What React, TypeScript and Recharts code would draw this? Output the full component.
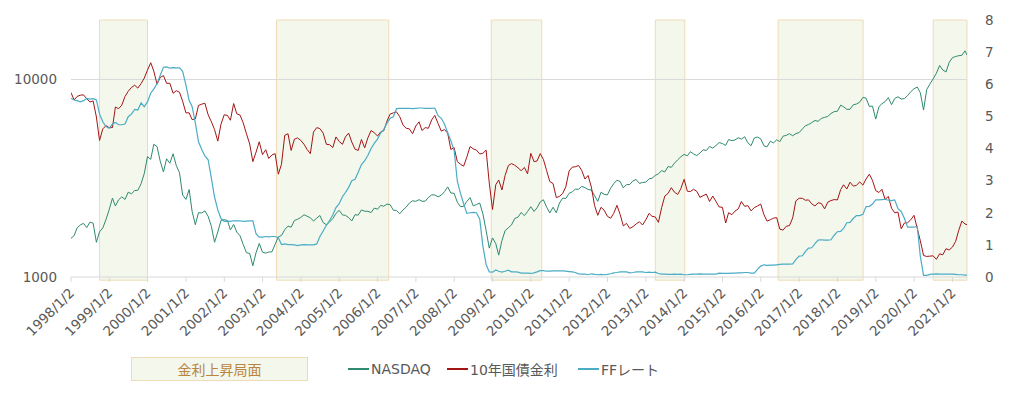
import { ComposedChart, Line, XAxis, YAxis, ReferenceArea, ReferenceLine } from 'recharts';

// monthly values from 1998/1 to 2021/5, plus the last day on the chart
const nasdaq = [
  1570, 1619, 1771, 1835, 1868, 1779, 1895, 1873, 1499, 1694, 1771, 1950, // 1998
  2193, 2506, 2288, 2461, 2543, 2471, 2686, 2638, 2739, 2746, 2966, 3336, // 1999
  4069, 3940, 4697, 4573, 3861, 3401, 3966, 3767, 4206, 3673, 3370, 2598, // 2000
  2471, 2773, 2152, 1840, 2116, 2110, 2161, 2027, 1805, 1499, 1690, 1931, // 2001
  1950, 1934, 1731, 1845, 1688, 1616, 1463, 1328, 1315, 1140, 1330, 1479, // 2002
  1336, 1321, 1338, 1341, 1464, 1596, 1623, 1735, 1810, 1787, 1932, 1960, // 2003
  2003, 2066, 2030, 1994, 1920, 1987, 2048, 1887, 1838, 1897, 1975, 2097, // 2004
  2175, 2062, 2052, 1999, 1922, 2068, 2057, 2185, 2152, 2152, 2120, 2233, // 2005
  2205, 2306, 2281, 2340, 2323, 2179, 2172, 2091, 2184, 2258, 2367, 2432, // 2006
  2415, 2464, 2416, 2422, 2525, 2605, 2603, 2546, 2596, 2701, 2859, 2661, // 2007
  2652, 2390, 2271, 2279, 2413, 2523, 2293, 2326, 2368, 2092, 1721, 1400, // 2008
  1577, 1476, 1290, 1529, 1717, 1774, 1835, 1979, 2009, 2122, 2045, 2145, // 2009
  2269, 2147, 2238, 2398, 2461, 2257, 2109, 2255, 2114, 2369, 2507, 2498, // 2010
  2653, 2700, 2782, 2781, 2874, 2835, 2774, 2756, 2579, 2415, 2684, 2620, // 2011
  2605, 2814, 2967, 3091, 3046, 2827, 2935, 2940, 3067, 3116, 2977, 3010, // 2012
  3020, 3142, 3160, 3268, 3329, 3456, 3403, 3626, 3590, 3771, 3920, 4060, // 2013
  4177, 4104, 4308, 4199, 4115, 4243, 4408, 4370, 4580, 4493, 4631, 4792, // 2014
  4736, 4635, 4964, 4901, 4941, 5070, 4987, 5128, 4777, 4620, 5054, 5109, // 2015
  5007, 4614, 4558, 4870, 4775, 4948, 4843, 5162, 5213, 5312, 5189, 5323, // 2016
  5383, 5615, 5825, 5912, 6048, 6199, 6140, 6348, 6429, 6496, 6728, 6874, // 2017
  6903, 7411, 7273, 7063, 7066, 7442, 7510, 7672, 8110, 8046, 7306, 7331, // 2018
  6300, 7282, 7533, 7729, 8095, 7453, 8006, 8175, 7963, 7999, 8292, 8665, // 2019
  8973, 9151, 8567, 7000, 8890, 9490, 10059, 10745, 11775, 11168, 10912, 12199, // 2020
  12888, 13071, 13192, 13247, 13962, 13300, // 2021
];

const us10y = [
  5.74, 5.51, 5.62, 5.66, 5.67, 5.55, 5.45, 5.48, 4.98, 4.25, 4.61, 4.71, // 1998
  4.65, 4.65, 5.29, 5.24, 5.35, 5.62, 5.78, 5.9, 5.97, 5.88, 6.02, 6.19, // 1999
  6.44, 6.67, 6.41, 6.0, 6.21, 6.27, 6.03, 6.03, 5.72, 5.8, 5.75, 5.47, // 2000
  5.11, 5.11, 4.9, 4.92, 5.34, 5.38, 5.41, 5.05, 4.83, 4.59, 4.23, 4.75, // 2001
  5.05, 5.03, 4.88, 5.4, 5.08, 5.04, 4.8, 4.46, 4.14, 3.59, 3.89, 4.21, // 2002
  3.81, 3.96, 3.69, 3.8, 3.84, 3.2, 3.51, 4.41, 4.46, 3.94, 4.29, 4.33, // 2003
  4.25, 4.13, 3.97, 3.84, 4.51, 4.65, 4.62, 4.48, 4.13, 4.12, 4.03, 4.36, // 2004
  4.22, 4.13, 4.36, 4.48, 4.2, 3.98, 3.94, 4.28, 4.02, 4.33, 4.56, 4.49, // 2005
  4.39, 4.52, 4.55, 4.85, 5.07, 5.11, 5.14, 4.99, 4.73, 4.63, 4.61, 4.46, // 2006
  4.7, 4.83, 4.56, 4.65, 4.63, 4.89, 5.03, 4.78, 4.54, 4.59, 4.48, 3.97, // 2007
  4.03, 3.59, 3.51, 3.45, 3.73, 4.06, 3.99, 3.95, 3.83, 3.85, 3.95, 2.93, // 2008
  2.1, 2.87, 3.02, 2.71, 3.16, 3.47, 3.53, 3.48, 3.4, 3.31, 3.41, 3.21, // 2009
  3.85, 3.59, 3.61, 3.84, 3.66, 3.31, 2.97, 2.91, 2.47, 2.51, 2.6, 2.81, // 2010
  3.3, 3.42, 3.43, 3.47, 3.32, 3.05, 3.16, 2.8, 2.22, 1.92, 2.17, 2.08, // 2011
  1.89, 1.83, 1.98, 2.23, 1.95, 1.59, 1.67, 1.51, 1.57, 1.65, 1.72, 1.62, // 2012
  1.78, 1.98, 1.89, 1.87, 1.7, 2.16, 2.52, 2.6, 2.78, 2.64, 2.57, 2.75, // 2013
  3.04, 2.67, 2.66, 2.73, 2.67, 2.48, 2.53, 2.58, 2.35, 2.52, 2.35, 2.18, // 2014
  2.17, 1.68, 2.0, 1.94, 2.05, 2.12, 2.35, 2.2, 2.22, 2.06, 2.16, 2.21, // 2015
  2.27, 1.94, 1.74, 1.78, 1.83, 1.85, 1.49, 1.46, 1.58, 1.6, 1.84, 2.37, // 2016
  2.45, 2.45, 2.39, 2.4, 2.28, 2.21, 2.31, 2.29, 2.12, 2.33, 2.38, 2.41, // 2017
  2.4, 2.72, 2.87, 2.74, 2.95, 2.83, 2.85, 2.96, 2.86, 3.05, 3.2, 3.01, // 2018
  2.69, 2.63, 2.73, 2.41, 2.51, 2.14, 2.0, 2.02, 1.5, 1.68, 1.69, 1.78, // 2019
  1.92, 1.51, 1.13, 0.67, 0.64, 0.65, 0.66, 0.55, 0.72, 0.69, 0.88, 0.84, // 2020
  0.93, 1.11, 1.44, 1.74, 1.65, 1.63, // 2021
];

const ffRate = [
  5.56, 5.51, 5.49, 5.45, 5.49, 5.56, 5.54, 5.55, 5.51, 5.07, 4.83, 4.68, // 1998
  4.63, 4.76, 4.81, 4.74, 4.74, 4.76, 4.99, 5.07, 5.22, 5.2, 5.42, 5.3, // 1999
  5.45, 5.73, 5.85, 6.02, 6.27, 6.53, 6.54, 6.5, 6.52, 6.51, 6.51, 6.4, // 2000
  5.98, 5.49, 5.31, 4.8, 4.21, 3.97, 3.77, 3.65, 3.07, 2.49, 2.09, 1.82, // 2001
  1.73, 1.74, 1.73, 1.75, 1.75, 1.75, 1.73, 1.74, 1.75, 1.75, 1.34, 1.24, // 2002
  1.24, 1.26, 1.25, 1.26, 1.26, 1.22, 1.01, 1.03, 1.01, 1.01, 1.0, 0.98, // 2003
  1.0, 1.01, 1.0, 1.0, 1.0, 1.03, 1.26, 1.43, 1.61, 1.76, 1.93, 2.16, // 2004
  2.28, 2.5, 2.63, 2.79, 3.0, 3.04, 3.26, 3.5, 3.62, 3.78, 4.0, 4.16, // 2005
  4.29, 4.49, 4.59, 4.79, 4.94, 4.99, 5.24, 5.25, 5.25, 5.25, 5.25, 5.24, // 2006
  5.25, 5.26, 5.26, 5.25, 5.25, 5.25, 5.26, 5.02, 4.94, 4.76, 4.49, 4.24, // 2007
  3.94, 2.98, 2.61, 2.28, 1.98, 2.0, 2.01, 2.0, 1.81, 0.97, 0.39, 0.16, // 2008
  0.15, 0.22, 0.18, 0.15, 0.18, 0.21, 0.16, 0.16, 0.15, 0.12, 0.12, 0.12, // 2009
  0.11, 0.13, 0.16, 0.2, 0.2, 0.18, 0.18, 0.19, 0.19, 0.19, 0.19, 0.18, // 2010
  0.17, 0.16, 0.14, 0.1, 0.09, 0.09, 0.07, 0.1, 0.08, 0.07, 0.08, 0.07, // 2011
  0.08, 0.1, 0.13, 0.14, 0.16, 0.16, 0.16, 0.13, 0.14, 0.16, 0.16, 0.16, // 2012
  0.14, 0.15, 0.14, 0.15, 0.11, 0.09, 0.09, 0.08, 0.08, 0.09, 0.08, 0.09, // 2013
  0.07, 0.07, 0.08, 0.09, 0.09, 0.1, 0.09, 0.09, 0.09, 0.09, 0.09, 0.12, // 2014
  0.11, 0.11, 0.11, 0.12, 0.12, 0.13, 0.13, 0.14, 0.14, 0.12, 0.12, 0.24, // 2015
  0.34, 0.38, 0.36, 0.37, 0.37, 0.38, 0.39, 0.4, 0.4, 0.4, 0.41, 0.54, // 2016
  0.65, 0.66, 0.79, 0.9, 0.91, 1.04, 1.15, 1.16, 1.15, 1.15, 1.16, 1.3, // 2017
  1.41, 1.42, 1.51, 1.69, 1.7, 1.82, 1.91, 1.91, 1.95, 2.19, 2.2, 2.27, // 2018
  2.4, 2.4, 2.41, 2.42, 2.39, 2.38, 2.4, 2.13, 2.04, 1.83, 1.55, 1.55, // 2019
  1.55, 1.58, 0.65, 0.05, 0.05, 0.08, 0.09, 0.1, 0.09, 0.09, 0.09, 0.09, // 2020
  0.09, 0.08, 0.07, 0.07, 0.06, 0.06, // 2021
];

// 金利上昇局面 (start, end)
const hikePeriods = [
  ['1998-10-01', '2000-01-01'],
  ['2003-05-15', '2006-04-18'],
  ['2008-12-20', '2010-04-15'],
  ['2013-04-02', '2014-01-08'],
  ['2016-06-15', '2018-09-03'],
  ['2020-07-02', '2021-05-20'],
];

const tickYears = [
  1998, 1999, 2000, 2001, 2002, 2003, 2004, 2005, 2006, 2007, 2008, 2009,
  2010, 2011, 2012, 2013, 2014, 2015, 2016, 2017, 2018, 2019, 2020, 2021,
];
const leftTicks = [1000, 10000];
const rightTicks = [0, 1, 2, 3, 4, 5, 6, 7, 8];

const FIRST_DAY = Date.UTC(1998, 0, 2);
const LAST_DAY = Date.UTC(2021, 4, 20);
const toTime = (s: string) => Date.parse(s + 'T00:00:00Z');

const data = nasdaq.map((v, i) => ({
  t: i === 0 ? FIRST_DAY : i === nasdaq.length - 1 ? LAST_DAY : Date.UTC(1998, i, 1),
  nasdaq: v,
  us10y: us10y[i],
  ff: ffRate[i],
}));

const FONT = "'DejaVu Sans', 'Noto Sans CJK JP', sans-serif";
const TEXT = '#595959';
const C_NASDAQ = '#2f8a70';
const C_10Y = '#a31515';
const C_FF = '#4bacc6';

const YearTick = ({ x, y, payload }: any) => {
  const tx = x + 4;
  const ty = y + 12;
  const year = new Date(payload.value).getUTCFullYear();
  return (
    <text x={tx} y={ty} transform={`rotate(-45, ${tx}, ${ty})`} textAnchor="end" fill={TEXT} fontSize={13.5} fontFamily={FONT}>
      {`${year}/1/2`}
    </text>
  );
};

const LegendLine = ({ left, color, label }: { left: number; color: string; label: string }) => (
  <div style={{ position: 'absolute', left, top: 359, height: 20, display: 'flex', alignItems: 'center' }}>
    <div style={{ width: 21, height: 1.5, background: color, marginRight: 2 }} />
    <span style={{ fontSize: 14, color: TEXT, whiteSpace: 'nowrap' }}>{label}</span>
  </div>
);

export default function App() {
  return (
    <div style={{ position: 'absolute', left: 0, top: 0, width: 1017, height: 394, background: '#fff', fontFamily: FONT }}>
      <ComposedChart width={1017} height={394} data={data} margin={{ top: 20, right: 0, bottom: 0, left: 0 }}>
        <XAxis
          dataKey="t"
          type="number"
          domain={[FIRST_DAY, LAST_DAY]}
          allowDataOverflow
          ticks={tickYears.map((y) => Date.UTC(y, 0, 2))}
          interval={0}
          height={117}
          tickSize={5}
          tickMargin={0}
          axisLine={{ stroke: '#d9d9d9' }}
          tickLine={{ stroke: '#d9d9d9' }}
          tick={<YearTick />}
        />
        <YAxis
          yAxisId="left"
          scale="log"
          domain={[1000, 20000]}
          allowDataOverflow
          ticks={leftTicks}
          width={71}
          axisLine={false}
          tickLine={false}
          tickSize={0}
          tickMargin={14}
          tick={{ fill: TEXT, fontSize: 13.5, fontFamily: FONT }}
        />
        <YAxis
          yAxisId="right"
          orientation="right"
          domain={[0, 8]}
          ticks={rightTicks}
          interval={0}
          width={50}
          axisLine={false}
          tickLine={false}
          tickSize={0}
          tickMargin={18}
          tick={{ fill: TEXT, fontSize: 13.5, fontFamily: FONT }}
        />
        {hikePeriods.map(([a, b]) => (
          <ReferenceArea
            key={a}
            yAxisId="right"
            x1={toTime(a)}
            x2={toTime(b)}
            y1={-0.1}
            y2={8}
            ifOverflow="visible"
            fill="#f3f7ec"
            fillOpacity={1}
            stroke="#efdcb6"
            strokeWidth={1}
          />
        ))}
        <ReferenceLine yAxisId="left" y={10000} stroke="#d9d9d9" strokeWidth={1} />
        <Line yAxisId="left" dataKey="nasdaq" type="linear" stroke={C_NASDAQ} strokeWidth={1} dot={false} isAnimationActive={false} />
        <Line yAxisId="right" dataKey="us10y" type="linear" stroke={C_10Y} strokeWidth={1} dot={false} isAnimationActive={false} />
        <Line yAxisId="right" dataKey="ff" type="linear" stroke={C_FF} strokeWidth={1.2} dot={false} isAnimationActive={false} />
      </ComposedChart>

      <div
        style={{
          position: 'absolute', left: 131, top: 357, width: 175, height: 22,
          background: '#f3f7ec', border: '1px solid #efdcb6',
          display: 'flex', alignItems: 'center', justifyContent: 'center',
          fontSize: 14, color: '#b9843d',
        }}
      >
        金利上昇局面
      </div>
      <LegendLine left={348} color={C_NASDAQ} label="NASDAQ" />
      <LegendLine left={447} color={C_10Y} label="10年国債金利" />
      <LegendLine left={578} color={C_FF} label="FFレート" />
    </div>
  );
}
